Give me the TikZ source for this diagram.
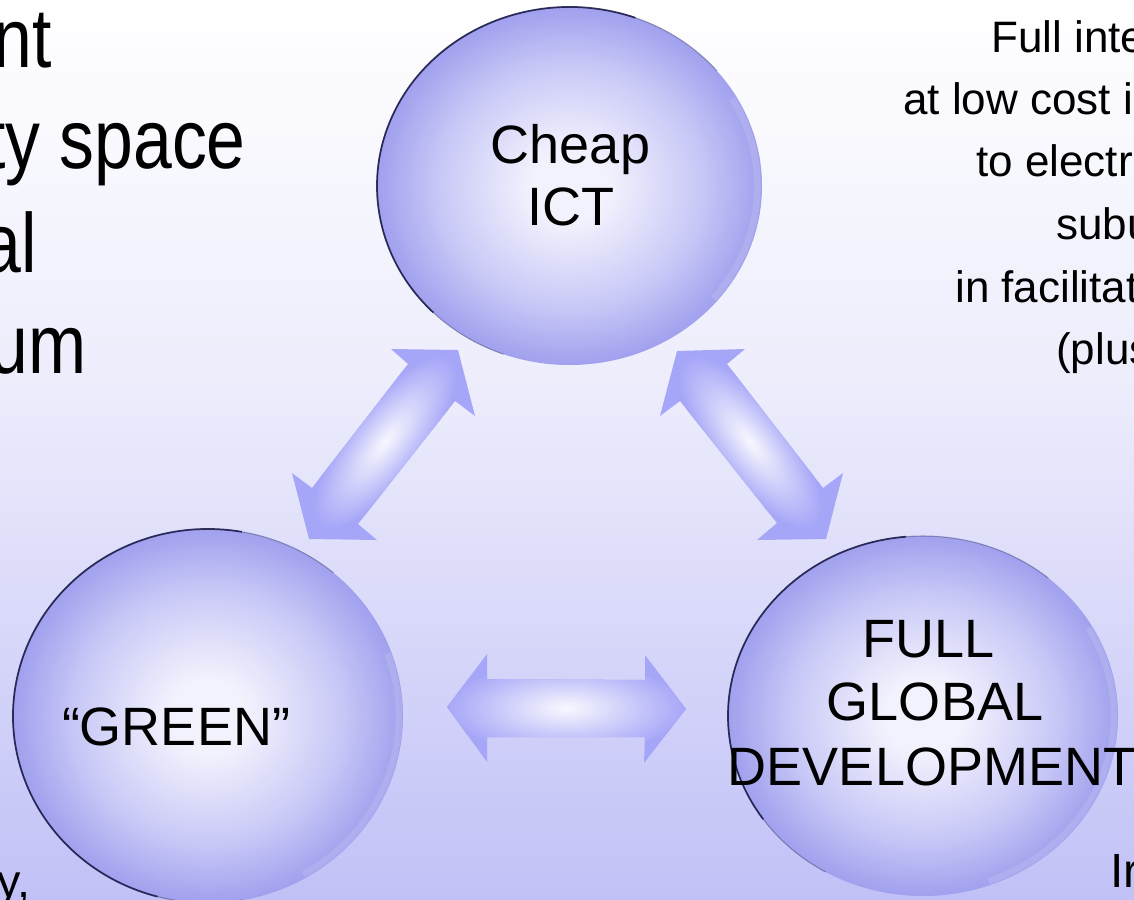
\documentclass[tikz,border=0pt]{standalone}
\usepackage{fontspec}
\setmainfont{Liberation Sans}
\usepackage{graphicx}
\usetikzlibrary{shapes.geometric}

\definecolor{bgbot}{RGB}{193,193,247}
\definecolor{bgmid}{RGB}{216,216,250}
\definecolor{bgup}{RGB}{236,236,252}
\definecolor{sphc}{RGB}{242,242,253}
\definecolor{sphm}{RGB}{200,200,247}
\definecolor{spho}{RGB}{160,160,238}
\definecolor{rimc}{RGB}{25,25,70}
\definecolor{arrh}{RGB}{166,166,248}
\definecolor{glow}{RGB}{248,248,254}

\pgfdeclareverticalshading{bgsh}{100bp}{color(0bp)=(bgbot); color(25bp)=(bgbot); color(40bp)=(bgmid); color(53bp)=(bgup); color(75bp)=(white); color(100bp)=(white)}
\pgfdeclareradialshading{spheresh}{\pgfpoint{0bp}{0bp}}{color(0bp)=(sphc); color(5bp)=(sphc); color(17bp)=(sphm); color(25bp)=(spho); color(50bp)=(spho)}

\begin{document}
\begin{tikzpicture}[x=0.75pt,y=-0.75pt,
  sphere/.style={ellipse, inner sep=0pt, shade, shading=spheresh},
  rim/.style={draw=rimc, line width=1.3pt, opacity=0.85},
  rimsoft/.style={draw=rimc, line width=0.8pt, opacity=0.35},
  shine/.style={draw=white, line width=5pt, opacity=0.12},
  blockarrow/.style={fill=arrh, draw=none},
  glowshade/.style={inner color=glow, outer color=arrh},
  sphtxt/.style={font=\fontsize{40.5pt}{47pt}\selectfont, inner sep=0pt, anchor=base},
  bigtxt/.style={font=\fontsize{63pt}{76pt}\selectfont, inner sep=0pt, anchor=base east},
  sidetxt/.style={font=\fontsize{33pt}{46pt}\selectfont, inner sep=0pt, anchor=base west}]

\useasboundingbox (0,0) rectangle (1134,899);
\clip (0,0) rectangle (1134,899);
\shade[shading=bgsh] (0,0) rectangle (1134,899);

% ---------- block arrows ----------
% upper left
\coordinate (ulc) at (385,442);
\begin{scope}
  \clip (391,349) -- (458,350) -- (475,416) -- (455,401) -- (358,524) -- (377,540) -- (309,539) -- (292,473) -- (312,488) -- (408,364) -- cycle;
  \fill[blockarrow] (280,340) rectangle (490,550);
  \begin{scope}[transform canvas={rotate around={52:(ulc)}}]
    \shade[glowshade] (ulc) ellipse [x radius=105, y radius=38];
  \end{scope}
\end{scope}
% upper right
\coordinate (urc) at (750,442);
\begin{scope}
  \clip (677,351) -- (745,349) -- (727,364) -- (823,488) -- (843,473) -- (826,539) -- (757,540) -- (777,523) -- (680,401) -- (660,416) -- cycle;
  \fill[blockarrow] (650,340) rectangle (850,550);
  \begin{scope}[transform canvas={rotate around={-52:(urc)}}]
    \shade[glowshade] (urc) ellipse [x radius=105, y radius=38];
  \end{scope}
\end{scope}
% bottom
\coordinate (bc) at (566,708);
\begin{scope}
  \clip (447,707) -- (487,654) -- (487,679) -- (645,680) -- (645,655) -- (686,709) -- (644,763) -- (645,737) -- (487,737) -- (487,762) -- cycle;
  \fill[blockarrow] (440,650) rectangle (690,770);
  \shade[glowshade] (bc) ellipse [x radius=120, y radius=46];
\end{scope}

% ---------- spheres ----------
\node[sphere, minimum width=288.75pt, minimum height=268.5pt] (ict) at (569.5,186) {};
\node[sphere, minimum width=292.5pt, minimum height=280.5pt] (green) at (208,716) {};
\node[sphere, minimum width=292.5pt, minimum height=270pt] (full) at (923,716) {};

\draw[rimsoft] (ict.center) ++(-40:192.5 and 179) arc[start angle=-40, end angle=-250, x radius=192.5, y radius=179];
\draw[rim] (ict.center) ++(-70:192.5 and 179) arc[start angle=-70, end angle=-225, x radius=192.5, y radius=179];
\draw[shine] (ict.center) ++(40:188 and 175) arc[start angle=40, end angle=-30, x radius=188, y radius=175];

\draw[rimsoft] (green.center) ++(-50:195 and 187) arc[start angle=-50, end angle=-280, x radius=195, y radius=187];
\draw[rim] (green.center) ++(-80:195 and 187) arc[start angle=-80, end angle=-255, x radius=195, y radius=187];
\draw[shine] (green.center) ++(60:191 and 183) arc[start angle=60, end angle=-20, x radius=191, y radius=183];

\draw[rimsoft] (full.center) ++(-50:195 and 180) arc[start angle=-50, end angle=-240, x radius=195, y radius=180];
\draw[rim] (full.center) ++(-95:195 and 180) arc[start angle=-95, end angle=-215, x radius=195, y radius=180];
\draw[shine] (full.center) ++(70:191 and 176) arc[start angle=70, end angle=-30, x radius=191, y radius=176];

% ---------- sphere labels ----------
\node[sphtxt] (ict1) at (570.5,163) {Cheap};
\node[sphtxt] (ict2) at (571,225) {ICT};
\node[sphtxt] (green1) at (176,745) {“GREEN”};
\node[sphtxt] (full1) at (929,657) {FULL};
\node[sphtxt] (full2) at (935,720) {GLOBAL};
\node[sphtxt] (full3) at (932,785) {DEVELOPMENT};

% ---------- left text (cut off by the frame) ----------
\node[bigtxt] (l1) at (52,68) {\scalebox{0.83}[1]{nt}};
\node[bigtxt] (l2) at (246,168) {\scalebox{0.83}[1]{ty space}};
\node[bigtxt] (l3) at (37,272) {\scalebox{0.83}[1]{al}};
\node[bigtxt] (l4) at (87,373) {\scalebox{0.83}[1]{um}};

% ---------- right text (cut off by the frame) ----------
\node[sidetxt] (r1) at (991,53) {Full inte};
\node[sidetxt] (r2) at (903,114) {at low cost i};
\node[sidetxt] (r3) at (976,176) {to electr};
\node[sidetxt] (r4) at (1056,239) {subu};
\node[sidetxt] (r5) at (955,302) {in facilitat};
\node[sidetxt] (r6) at (1056,364) {(plus};

% ---------- bottom fragments ----------
\node[font=\fontsize{35pt}{40pt}\selectfont, inner sep=0pt, anchor=base east] (b1) at (31,897) {y,};
\node[font=\fontsize{36pt}{40pt}\selectfont, inner sep=0pt, anchor=base west] (b2) at (1110,887) {Ir};
\end{tikzpicture}
\end{document}
